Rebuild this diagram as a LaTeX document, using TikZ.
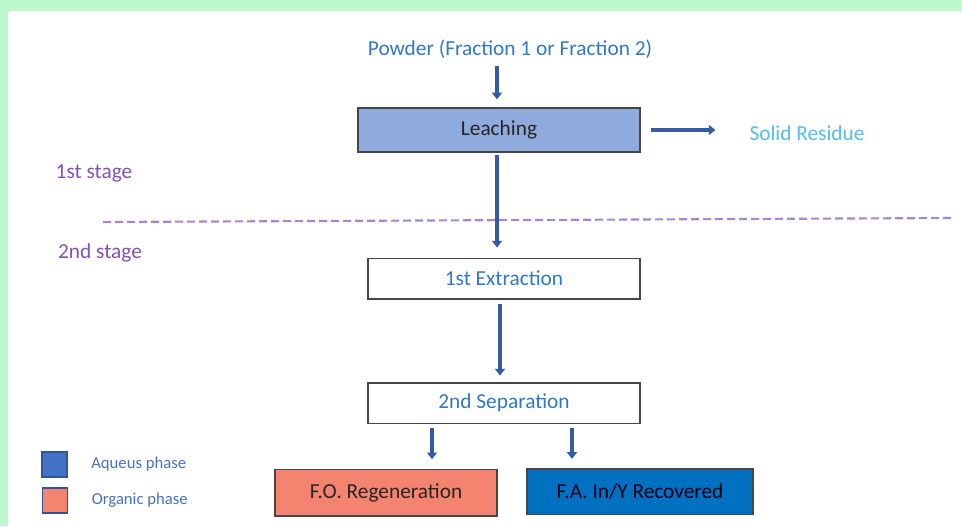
\documentclass[tikz,border=0pt]{standalone}
\usepackage{fontspec}
\setmainfont{Carlito}
\usetikzlibrary{arrows.meta, positioning}

\definecolor{framegreen}{RGB}{188,250,206}
\definecolor{flowblue}{RGB}{52,90,168}
\definecolor{boxline}{RGB}{70,70,70}
\definecolor{leachfill}{RGB}{143,170,220}
\definecolor{textblue}{RGB}{50,120,200}
\definecolor{residueblue}{RGB}{80,190,240}
\definecolor{stagepurple}{RGB}{130,80,190}
\definecolor{organic}{RGB}{244,132,112}
\definecolor{aqueous}{RGB}{0,112,192}
\definecolor{legendblue}{RGB}{68,114,196}
\definecolor{legendline}{RGB}{47,85,151}

\begin{document}
\begin{tikzpicture}[
    x = 0.75pt, y = -0.75pt,
    > = {Triangle[length=5pt, width=7.5pt]},
    node distance = 20pt,
    big/.style = {font = \fontsize{16}{19}\selectfont},
    small/.style = {font = \fontsize{12.5}{15}\selectfont},
    stepbox/.style = {big, draw = boxline, line width = 1pt, text = black!85,
                      minimum width = 204pt, minimum height = 30.5pt},
    flow/.style = {->, draw = flowblue, line width = 3pt},
    stage/.style = {big, text = stagepurple},
    swatch/.style = {draw = legendline, line width = 1.2pt,
                     minimum width = 19pt, minimum height = 18.5pt}
]

% frame and page
\fill[framegreen] (0,0) rectangle (962,526);
\fill[white] (8,11) rectangle (962,526);
\path[use as bounding box] (0,0) rectangle (962,526);

% Stages
\node[big, text = textblue]      (powder)  at (510,49)  {Powder (Fraction 1 or Fraction 2)};
\node[stepbox, fill = leachfill, minimum width = 211.5pt, minimum height = 33pt]
                                 (leach)   at (499,130) {Leaching};
\node[big, text = residueblue]   (residue) at (807,133) {Solid Residue};
\node[stepbox, text = textblue]  (ext)     at (504,278.5) {1st Extraction};
\node[stepbox, text = textblue, below = 62pt of ext] (sep) {2nd Separation};
\node[stepbox, fill = organic, minimum width = 166.5pt, minimum height = 35pt]
                                 (fo)      at (386,492.5) {F.O. Regeneration};
\node[stepbox, fill = aqueous, text = black!90!blue, minimum width = 169.5pt, minimum height = 34pt]
                                 (fa)      at (640,491.5) {F.A. In/Y Recovered};

% stage labels and divider
\node[stage] (first)  at (94,173)  {1st stage};
\node[stage] (second) at (100,253) {2nd stage};
\draw[stagepurple!70, line width = 1.6pt, dash pattern = on 6pt off 3pt] (103,222) -- (952,218);

% Legend
\node[swatch, fill = legendblue] (aq)  at (54.5,464.5) {};
\node[swatch, fill = organic]    (org) at (55,500.5)   {};
\node[small, text = legendblue, right = 14pt of aq]  (aqtext)  {Aqueus phase};
\node[small, text = legendblue, right = 14pt of org] (orgtext) {Organic phase};

% Flow
\draw[flow, shorten < = 2pt, shorten > = 6pt] ([xshift=-1.5pt]leach.north |- powder.south) -- ([xshift=-1.5pt]leach.north);
\draw[flow, shorten < = 2pt, shorten > = 7.5pt] ([xshift=-1.5pt]leach.south) -- ([xshift=-1.5pt]leach.south |- ext.north);
\draw[flow, shorten < = 7.5pt, shorten > = 22pt] (leach.east) -- (leach.east -| residue.west);
\draw[flow, shorten < = 3pt, shorten > = 5pt] ([xshift=-3pt]ext.south) -- ([xshift=-3pt]ext.south |- sep.north);
\draw[flow, shorten < = 3pt, shorten > = 7pt] ([xshift=-54pt]sep.south) -- ([xshift=-54pt]sep.south |- fo.north);
\draw[flow, shorten < = 3pt, shorten > = 7pt] ([xshift=51pt]sep.south) -- ([xshift=51pt]sep.south |- fa.north);

\end{tikzpicture}
\end{document}
